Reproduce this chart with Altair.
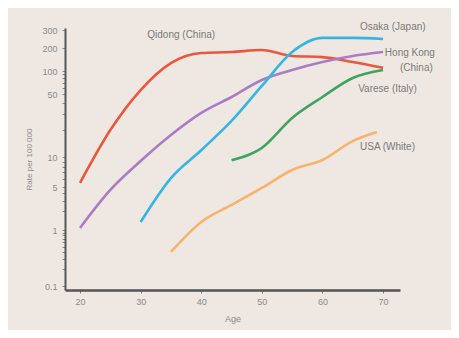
import altair as alt
import pandas as pd

# ---- data ----
series_names = ["Qidong (China)", "Hong Kong (China)", "Osaka (Japan)", "Varese (Italy)", "USA (White)"]
series_colors = ["#e9573f", "#a97dc6", "#34b6e2", "#3fa45f", "#f7b36e"]

qidong_age = [20, 25, 30, 35, 40, 45, 50, 55, 60, 65, 70]
qidong_rate = [5.5, 19.9, 56.4, 127, 172, 177, 188, 157, 152, 131, 110]

hongkong_age = [20, 25, 30, 35, 40, 45, 50, 55, 60, 65, 70]
hongkong_rate = [1.08, 4.47, 9.1, 17.5, 30.8, 46.3, 76.2, 103, 131, 157, 177]

osaka_age = [30, 35, 40, 45, 50, 55, 60, 65, 70]
osaka_rate = [1.35, 6.15, 11.9, 25.1, 63.7, 177, 251, 251, 245]

varese_age = [45, 50, 55, 60, 65, 70]
varese_rate = [9.3, 12.6, 27.1, 46.3, 80.9, 103]

usa_age = [35, 40, 45, 50, 55, 60, 65, 69]
usa_rate = [0.405, 1.35, 2.55, 4.82, 7.41, 9.33, 15.0, 18.9]

# series annotations (data coordinates)
label_text = ["Qidong (China)", "Osaka (Japan)", "Hong Kong", "(China)", "Varese (Italy)", "USA (White)"]
label_age = [31.1, 66.2, 70.3, 72.8, 65.9, 66.2]
label_rate = [268, 321, 172, 109, 58, 12.9]

# axis ticks (labels as drawn on the original, hand-spaced log axis)
y_label_values = [0.1, 1, 5, 10, 50, 100, 200, 300]
y_tick_values = [0.1, 0.2, 0.3, 0.4, 0.5, 0.6, 0.7, 0.8, 0.9, 1, 2, 3, 4, 5, 6, 7, 8, 9,
                 10, 20, 30, 40, 50, 60, 70, 80, 90, 100, 200, 300]
x_tick_values = [20, 25, 30, 35, 40, 45, 50, 55, 60, 65, 70]

# piecewise mapping of the original's hand-drawn log axis
y_domain = [0.0849, 0.1, 1, 5, 10, 50, 100, 200, 300, 314]
y_range = [262, 258, 202, 159, 129, 66, 43, 20, 2, 0]

rows = []
for name, ages, rates in [
    (series_names[0], qidong_age, qidong_rate),
    (series_names[1], hongkong_age, hongkong_rate),
    (series_names[2], osaka_age, osaka_rate),
    (series_names[3], varese_age, varese_rate),
    (series_names[4], usa_age, usa_rate),
]:
    for a, r in zip(ages, rates):
        rows.append({"series": name, "age": a, "rate": r})
df = pd.DataFrame(rows)
labels_df = pd.DataFrame({"text": label_text, "age": label_age, "rate": label_rate})

xscale = alt.Scale(domain=[17.52, 72.8], nice=False, zero=False)
yscale = alt.Scale(type="log", domain=y_domain, range=y_range, nice=False)

label_expr = "indexof([0.1, 1, 5, 10, 50, 100, 200, 300], datum.value) >= 0 ? datum.label : ''"

lines = alt.Chart(df).mark_line(strokeWidth=2.6, interpolate="monotone").encode(
    x=alt.X("age:Q", scale=xscale,
            axis=alt.Axis(title="Age", values=x_tick_values, grid=False, tickSize=3,
                          labelPadding=4, titlePadding=8, domainWidth=2.5, domainColor="#555555",
                          tickColor="#777777", labelColor="#8a8a8a", titleColor="#8a8a8a",
                          labelFontSize=9, titleFontSize=9, titleFontWeight="normal")),
    y=alt.Y("rate:Q", scale=yscale,
            axis=alt.Axis(title="Rate per 100 000", values=y_tick_values, labelExpr=label_expr,
                          format="~g", grid=False, tickSize=3, labelPadding=5, titlePadding=8,
                          labelOverlap=False, domainWidth=2, domainColor="#555555",
                          tickColor="#8a8a8a", labelColor="#8a8a8a", titleColor="#8a8a8a",
                          labelFontSize=9, titleFontSize=8, titleFontWeight="normal")),
    color=alt.Color("series:N", scale=alt.Scale(domain=series_names, range=series_colors), legend=None),
    detail="series:N",
)

texts = alt.Chart(labels_df).mark_text(align="left", baseline="middle", fontSize=10,
                                       color="#7a7a7a", font="Liberation Sans").encode(
    x=alt.X("age:Q", scale=xscale),
    y=alt.Y("rate:Q", scale=yscale),
    text="text:N",
)

chart = alt.layer(lines, texts).properties(
    width=335, height=262,
    autosize=alt.AutoSizeParams(type="none"),
    padding={"left": 57, "top": 20, "right": 51, "bottom": 40},
    background="#efe8e2",
).configure(font="Liberation Sans").configure_view(strokeWidth=0, strokeOpacity=0)

chart.save("out.html", embed_options={"renderer": "svg", "actions": False})
